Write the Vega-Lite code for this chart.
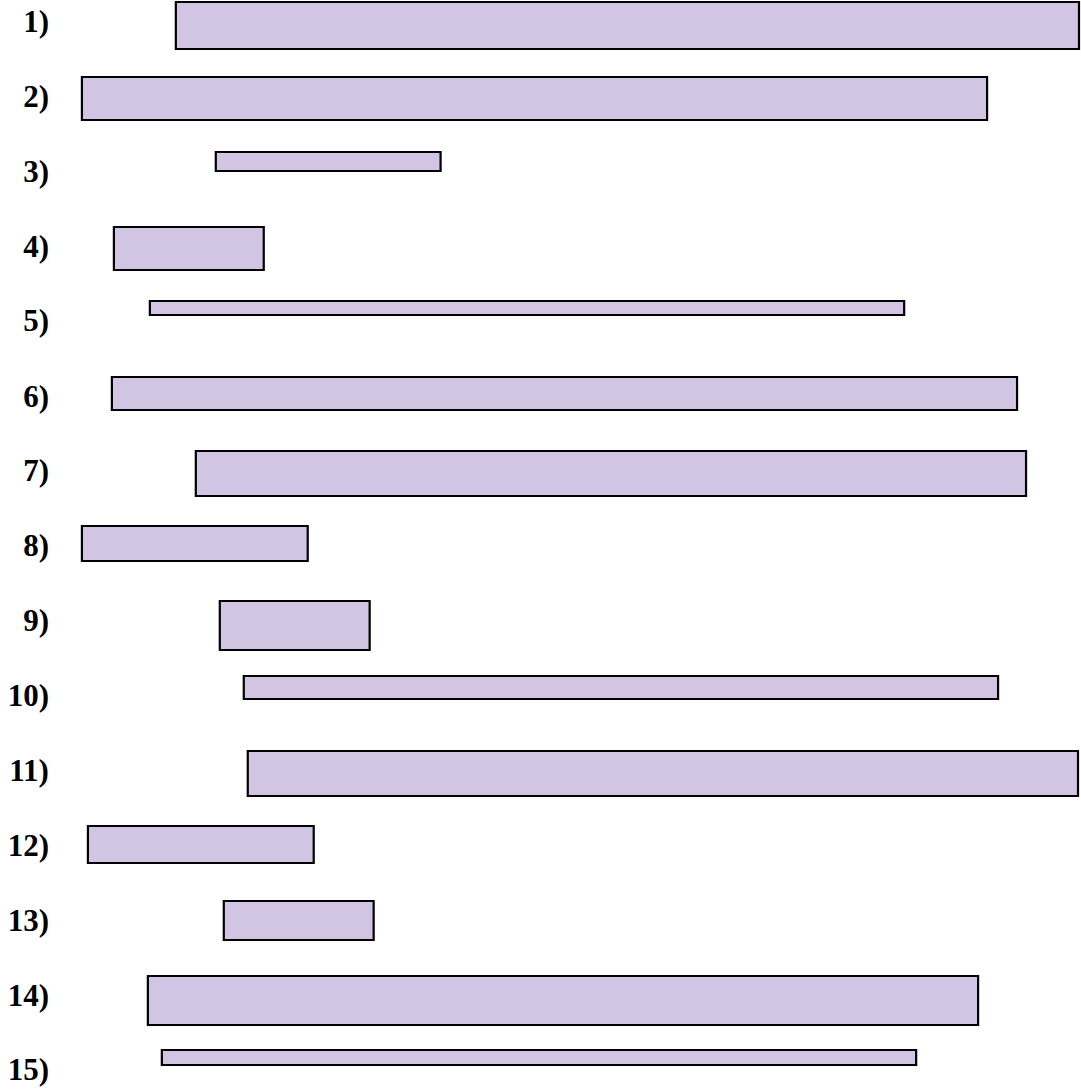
{
  "$schema": "https://vega.github.io/schema/vega-lite/v6.json",
  "width": 1081,
  "height": 1089,
  "autosize": {"type": "fit", "contains": "padding"},
  "padding": 0,
  "background": "white",
  "config": {"view": {"stroke": null}},
  "data": {
    "values": [
      {"label": "1)", "start": 176, "end": 1080, "top": 2, "bottom": 49},
      {"label": "2)", "start": 82, "end": 988, "top": 77, "bottom": 120},
      {"label": "3)", "start": 216, "end": 441, "top": 152, "bottom": 171},
      {"label": "4)", "start": 114, "end": 264, "top": 227, "bottom": 270},
      {"label": "5)", "start": 150, "end": 905, "top": 301, "bottom": 315},
      {"label": "6)", "start": 112, "end": 1018, "top": 377, "bottom": 410},
      {"label": "7)", "start": 196, "end": 1027, "top": 451, "bottom": 496},
      {"label": "8)", "start": 82, "end": 308, "top": 526, "bottom": 561},
      {"label": "9)", "start": 220, "end": 370, "top": 601, "bottom": 650},
      {"label": "10)", "start": 244, "end": 999, "top": 676, "bottom": 699},
      {"label": "11)", "start": 248, "end": 1079, "top": 751, "bottom": 796},
      {"label": "12)", "start": 88, "end": 314, "top": 826, "bottom": 863},
      {"label": "13)", "start": 224, "end": 374, "top": 901, "bottom": 940},
      {"label": "14)", "start": 148, "end": 979, "top": 976, "bottom": 1025},
      {"label": "15)", "start": 162, "end": 917, "top": 1050, "bottom": 1065}
    ]
  },
  "layer": [
    {
      "mark": {"type": "rect", "fill": "#d2c4e3", "stroke": "#000000", "strokeWidth": 2.2},
      "encoding": {
        "x": {"field": "start", "type": "quantitative", "scale": {"domain": [0, 1081], "nice": false, "zero": false}, "axis": null},
        "x2": {"field": "end"},
        "y": {"field": "top", "type": "quantitative", "scale": {"domain": [0, 1089], "nice": false, "zero": false, "reverse": true}, "axis": null},
        "y2": {"field": "bottom"}
      }
    },
    {
      "mark": {"type": "text", "align": "right", "baseline": "alphabetic", "dy": 30, "font": "Liberation Serif, Times New Roman, serif", "fontWeight": "bold", "fontSize": 31, "color": "#000000"},
      "encoding": {
        "x": {"datum": 49, "type": "quantitative"},
        "y": {"field": "top", "type": "quantitative"},
        "text": {"field": "label"}
      }
    }
  ]
}
